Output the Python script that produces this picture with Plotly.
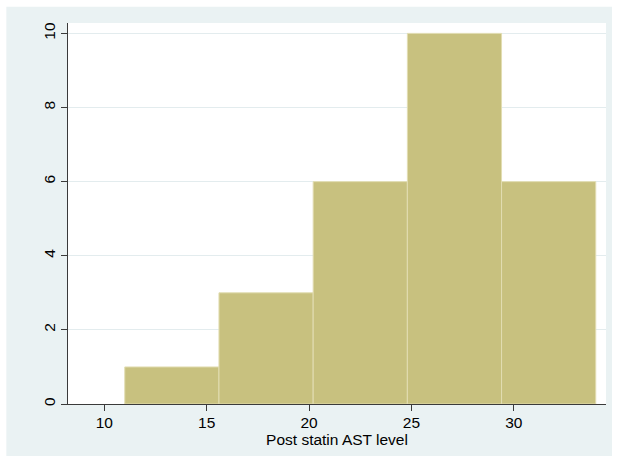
import plotly.graph_objects as go

# Histogram of post-statin AST level (frequency per bin)
bin_edges = [11.0, 15.6, 20.2, 24.8, 29.4, 34.0]
counts = [1, 3, 6, 10, 6]
x_ticks = [10, 15, 20, 25, 30]
y_ticks = [0, 2, 4, 6, 8, 10]

centers = [(a + b) / 2 for a, b in zip(bin_edges[:-1], bin_edges[1:])]
widths = [b - a for a, b in zip(bin_edges[:-1], bin_edges[1:])]

BG = "#EAF2F3"
GRID = "#E3ECEE"
AXIS = "#3A3A3A"
FILL = "rgb(200,193,127)"
EDGE = "rgb(226,221,178)"
FONT = "Liberation Sans, Arial, sans-serif"
FS = 15.5

fig = go.Figure(
    go.Bar(
        x=centers,
        y=counts,
        width=widths,
        marker=dict(color=FILL, line=dict(color=EDGE, width=1)),
        hoverinfo="x+y",
    )
)

fig.update_layout(
    width=617,
    height=461,
    margin=dict(l=68, r=11, t=23, b=57),
    paper_bgcolor="white",
    plot_bgcolor="white",
    showlegend=False,
    font=dict(family=FONT, size=FS, color="black"),
    shapes=[
        # outer graph region
        dict(type="rect", xref="paper", yref="paper",
             x0=-0.1146, x1=1.0111, y0=-0.1366, y1=1.0428,
             fillcolor=BG, line=dict(width=0), layer="below"),
        # plot region
        dict(type="rect", xref="paper", yref="paper",
             x0=0, x1=1, y0=0, y1=1,
             fillcolor="white", line=dict(width=0), layer="below"),
    ],
)

fig.update_xaxes(
    range=[8.228, 34.5],
    tickmode="array",
    tickvals=x_ticks,
    ticks="outside",
    ticklen=6,
    tickcolor=AXIS,
    showline=True,
    linecolor=AXIS,
    linewidth=1,
    showgrid=False,
    zeroline=False,
    ticklabelstandoff=-2,
    tickfont=dict(size=FS),
    title=dict(text="Post statin AST level", font=dict(size=FS), standoff=1),
)

fig.update_yaxes(
    range=[0, 10.28],
    tickmode="array",
    tickvals=y_ticks,
    tickangle=-90,
    ticks="outside",
    ticklen=6,
    tickcolor=AXIS,
    showline=True,
    linecolor=AXIS,
    linewidth=1,
    showgrid=True,
    gridcolor=GRID,
    gridwidth=1,
    zeroline=False,
    tickfont=dict(size=FS),
)

fig.write_html("out.html")
